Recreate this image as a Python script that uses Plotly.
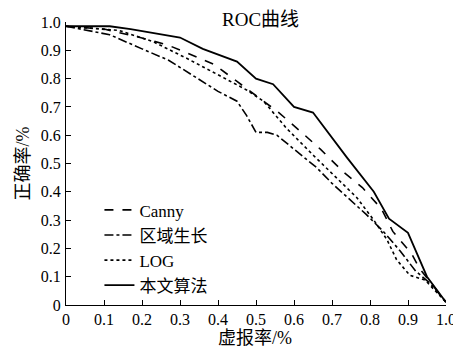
import plotly.graph_objects as go

# False positive rate (x) and true positive rate (y) for each method
canny_x = [0.0, 0.1, 0.195, 0.265, 0.32, 0.39, 0.45, 0.50, 0.56, 0.62, 0.67, 0.73, 0.78, 0.83, 0.86, 0.91, 0.93, 1.0]
canny_y = [0.985, 0.975, 0.945, 0.92, 0.89, 0.85, 0.79, 0.74, 0.68, 0.61, 0.55, 0.47, 0.415, 0.34, 0.26, 0.18, 0.13, 0.01]

region_x = [0.0, 0.115, 0.2, 0.27, 0.335, 0.40, 0.45, 0.475, 0.50, 0.53, 0.555, 0.61, 0.66, 0.70, 0.74, 0.79, 0.835, 0.88, 0.92, 0.96, 1.0]
region_y = [0.985, 0.955, 0.905, 0.865, 0.81, 0.755, 0.72, 0.67, 0.61, 0.61, 0.60, 0.54, 0.485, 0.43, 0.38, 0.32, 0.26, 0.19, 0.12, 0.075, 0.01]

log_x = [0.0, 0.14, 0.23, 0.32, 0.405, 0.475, 0.52, 0.58, 0.65, 0.71, 0.765, 0.81, 0.845, 0.87, 0.905, 0.945, 1.0]
log_y = [0.985, 0.97, 0.93, 0.87, 0.81, 0.76, 0.72, 0.625, 0.53, 0.45, 0.38, 0.30, 0.23, 0.16, 0.105, 0.088, 0.01]

ours_x = [0.0, 0.115, 0.17, 0.27, 0.30, 0.36, 0.45, 0.50, 0.545, 0.60, 0.65, 0.74, 0.81, 0.85, 0.90, 0.95, 1.0]
ours_y = [0.985, 0.985, 0.975, 0.95, 0.945, 0.905, 0.86, 0.80, 0.78, 0.70, 0.68, 0.52, 0.40, 0.305, 0.255, 0.10, 0.01]

names = ["Canny", "区域生长", "LOG", "本文算法"]
tick_vals = [0, 0.1, 0.2, 0.3, 0.4, 0.5, 0.6, 0.7, 0.8, 0.9, 1.0]
tick_text = ["0", "0.1", "0.2", "0.3", "0.4", "0.5", "0.6", "0.7", "0.8", "0.9", "1.0"]
title_text = "ROC曲线"
x_title = "虚报率/%"
y_title = "正确率/%"

FONT = "Liberation Serif, Times New Roman, Noto Sans CJK SC, serif"

fig = go.Figure()
series = [
    (canny_x, canny_y, names[0], "dash", 1.6),
    (region_x, region_y, names[1], "dashdot", 1.6),
    (log_x, log_y, names[2], "dot", 1.6),
    (ours_x, ours_y, names[3], "solid", 1.8),
]
for xs, ys, nm, dash, w in series:
    fig.add_trace(go.Scatter(x=xs, y=ys, mode="lines", name=nm,
                             line=dict(color="black", width=w, dash=dash)))

axis_common = dict(
    range=[0, 1], tickmode="array", tickvals=tick_vals, ticktext=tick_text,
    ticks="inside", ticklen=5, tickwidth=1, tickcolor="black",
    showline=True, linecolor="black", linewidth=1, mirror=False,
    showgrid=False, zeroline=False, automargin=False,
    tickfont=dict(family=FONT, size=16, color="black"),
)

# page body has an 8px margin, so the figure is sized/positioned to compensate
fig.update_layout(
    width=453, height=341,
    margin=dict(l=58, r=15, t=14, b=44),
    paper_bgcolor="white", plot_bgcolor="white",
    font=dict(family=FONT, size=16, color="black"),
    xaxis=dict(ticklabelstandoff=0, **axis_common),
    yaxis=dict(ticklabelstandoff=1, **axis_common),
    legend=dict(x=0.088, y=0.398, xanchor="left", yanchor="top",
                bgcolor="rgba(0,0,0,0)", borderwidth=0,
                font=dict(family=FONT, size=17, color="black"),
                tracegroupgap=0, itemwidth=30),
    showlegend=True,
)

fig.add_annotation(text=title_text, xref="paper", yref="paper",
                   x=0.513, y=1.0 + 2 / 283, xanchor="center", yanchor="middle",
                   showarrow=False, font=dict(family=FONT, size=19, color="black"))
fig.add_annotation(text=x_title, xref="paper", yref="paper",
                   x=0.497, y=-33 / 283, xanchor="center", yanchor="middle",
                   showarrow=False, font=dict(family=FONT, size=18, color="black"))
fig.add_annotation(text=y_title, xref="paper", yref="paper",
                   x=-44 / 380, y=0.5, xanchor="center", yanchor="middle", textangle=-90,
                   showarrow=False, font=dict(family=FONT, size=18, color="black"))

fig.write_html("out.html")
